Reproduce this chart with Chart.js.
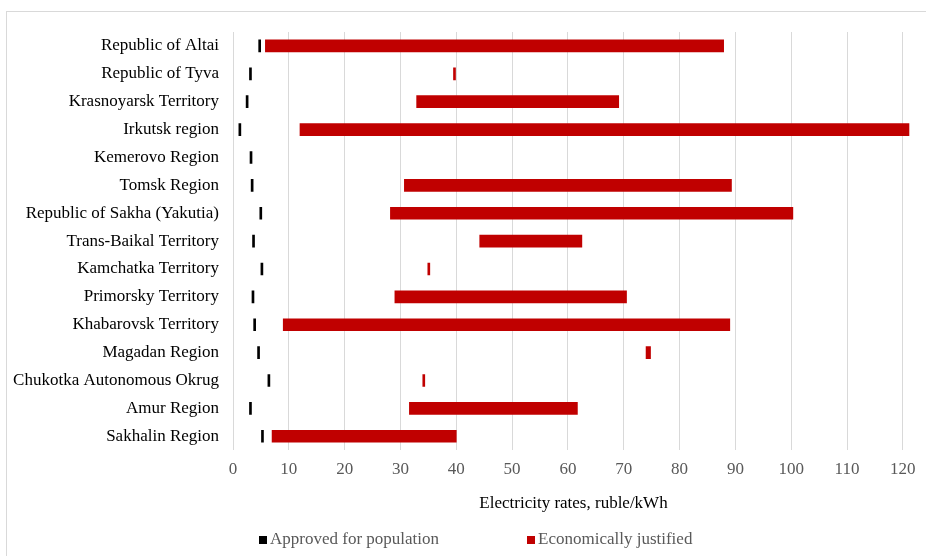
<!DOCTYPE html>
<html>
<head>
<meta charset="utf-8">
<script src="https://cdn.jsdelivr.net/npm/chart.js@4"></script>
<style>
  body { margin: 0; background: #fff; }
  #wrap { position: relative; width: 926px; height: 556px; overflow: hidden; }
  #frame { position: absolute; left: 6px; top: 11px; width: 940px; height: 560px; border: 1px solid #d9d9d9; }
  #chart { position: absolute; left: 0; top: 0; }
  .leg { position: absolute; top: 529px; font: 17px "Liberation Serif", "Times New Roman", serif; color: #595959; white-space: nowrap; }
  .leg i { display: inline-block; width: 8px; height: 8px; margin-right: 3px; }
</style>
</head>
<body>
<div id="wrap">
  <div id="frame"></div>
  <canvas id="chart" width="926" height="556"></canvas>
  <div class="leg" style="left:259px"><i style="background:#000"></i>Approved for population</div>
  <div class="leg" style="left:527px"><i style="background:#c00000"></i>Economically justified</div>
</div>
<script>
const regions = [
    "Republic of Altai", "Republic of Tyva", "Krasnoyarsk Territory", "Irkutsk region",
    "Kemerovo Region", "Tomsk Region", "Republic of Sakha (Yakutia)", "Trans-Baikal Territory",
    "Kamchatka Territory", "Primorsky Territory", "Khabarovsk Territory", "Magadan Region",
    "Chukotka Autonomous Okrug", "Amur Region", "Sakhalin Region"
];
const approved = [4.6, 2.95, 2.35, 1.05, 3.05, 3.25, 4.8, 3.5, 5.0, 3.4, 3.7, 4.4, 6.25, 2.95, 5.1];
const justifiedLow = [5.8, 39.5, 32.9, 12.0, null, 30.7, 28.2, 44.2, 34.9, 29.0, 9.0, 74.0, 34.0, 31.6, 7.0];
const justifiedHigh = [87.9, 39.8, 69.1, 121.1, null, 89.3, 100.3, 62.5, 35.2, 70.5, 89.0, 74.8, 34.3, 61.7, 40.0];
const xTicks = [0, 10, 20, 30, 40, 50, 60, 70, 80, 90, 100, 110, 120];

const serif = "'Liberation Serif', 'Times New Roman', serif";

const ctx = document.getElementById("chart").getContext("2d");
new Chart(ctx, {
    type: "bar",
    data: {
        labels: regions,
        datasets: [{
            label: "Approved for population",
            data: approved.map(v => [v, v]),
            backgroundColor: "#000000",
            barThickness: 12,
            minBarLength: 2,
            grouped: false
        }, {
            label: "Economically justified",
            data: justifiedLow.map((v, i) => v === null ? null : [v, justifiedHigh[i]]),
            backgroundColor: "#c00000",
            barThickness: 12,
            minBarLength: 2,
            grouped: false
        }]
    },
    options: {
        indexAxis: "y",
        responsive: false,
        animation: false,
        layout: { padding: { top: 32, right: 12, bottom: 40, left: 0 } },
        plugins: {
            legend: { display: false },
            tooltip: { enabled: false }
        },
        scales: {
            x: {
                min: 0,
                max: 122,
                ticks: { padding: 9, color: "#595959", font: { family: serif, size: 17 } },
                afterBuildTicks: axis => { axis.ticks = xTicks.map(v => ({ value: v })); },
                grid: { color: "#d9d9d9", drawTicks: false },
                border: { display: false },
                title: {
                    display: true,
                    text: "Electricity rates, ruble/kWh",
                    color: "#000000",
                    font: { family: serif, size: 17 },
                    padding: { top: 5, bottom: 2 }
                }
            },
            y: {
                afterFit: axis => { axis.width = 233; },
                ticks: { padding: 14, color: "#000000", font: { family: serif, size: 17 } },
                grid: { display: false, drawTicks: false },
                border: { display: false }
            }
        }
    }
});
</script>
</body>
</html>
